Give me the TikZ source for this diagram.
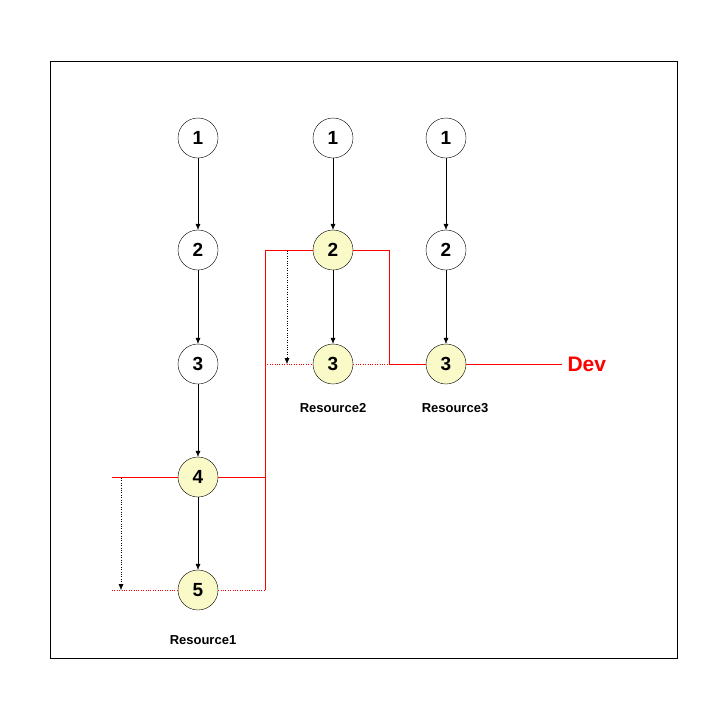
\documentclass[tikz,border=0pt]{standalone}
\usepackage{fontspec}
\setmainfont{Liberation Sans}
\usetikzlibrary{arrows.meta}
\definecolor{hl}{HTML}{FAFAC8}
\begin{document}
\begin{tikzpicture}[x=1pt,y=-1pt,
 st/.style={circle,draw,minimum size=40pt,inner sep=0pt,font=\bfseries\fontsize{19}{19}\selectfont},
 hs/.style={st,fill=hl},
 ar/.style={-{Latex[length=6pt,width=5pt]}},
 rd/.style={red},
 rdd/.style={red,dotted},
 lab/.style={font=\bfseries\fontsize{13}{15}\selectfont}]
\useasboundingbox (0,0) rectangle (720,720);
\draw (50,61) rectangle (677,658);
\node[st] (a1) at (198,138) {1};
\node[st] (a2) at (198,250) {2};
\node[st] (a3) at (198,364) {3};
\node[hs] (a4) at (198,477) {4};
\node[hs] (a5) at (198,590) {5};
\node[st] (b1) at (333,138) {1};
\node[hs] (b2) at (333,250) {2};
\node[hs] (b3) at (333,364) {3};
\node[st] (c1) at (446,138) {1};
\node[st] (c2) at (446,250) {2};
\node[hs] (c3) at (446,364) {3};
\foreach \u/\v in {a1/a2,a2/a3,a3/a4,a4/a5,b1/b2,b2/b3,c1/c2,c2/c3} \draw[ar] (\u) -- (\v);
\coordinate (l4) at (112,477); \coordinate (l5) at (112,590);
\coordinate (j4) at (265,477); \coordinate (j5) at (265,590);
\coordinate (j2) at (265,250); \coordinate (j3) at (265,364);
\coordinate (k2) at (389,250); \coordinate (k3) at (389,364);
\coordinate (d) at (562,364);
\draw[rd] (l4) -- (a4) -- (j4);
\draw[rdd] (l5) -- (a5);
\draw[rdd] (a5) -- (j5);
\draw[rd] (j5) -- (j2) -- (b2) -- (k2) -- (k3) -- (c3) -- (d);
\draw[rdd] (j3) -- (b3) -- (k3);
\node[anchor=west,red,font=\bfseries\fontsize{21}{21}\selectfont] (dev) at (564,364) {Dev};
\coordinate (p1) at (121,478); \coordinate (p2) at (121,590);
\coordinate (q1) at (287,251); \coordinate (q2) at (287,364);
\draw[dotted,-{Latex[length=6pt,width=5pt]}] (p1) -- (p2);
\draw[dotted,-{Latex[length=6pt,width=5pt]}] (q1) -- (q2);
\node[lab] (r1) at (203,640) {Resource1};
\node[lab] (r2) at (333,408) {Resource2};
\node[lab] (r3) at (455,408) {Resource3};
\end{tikzpicture}
\end{document}
